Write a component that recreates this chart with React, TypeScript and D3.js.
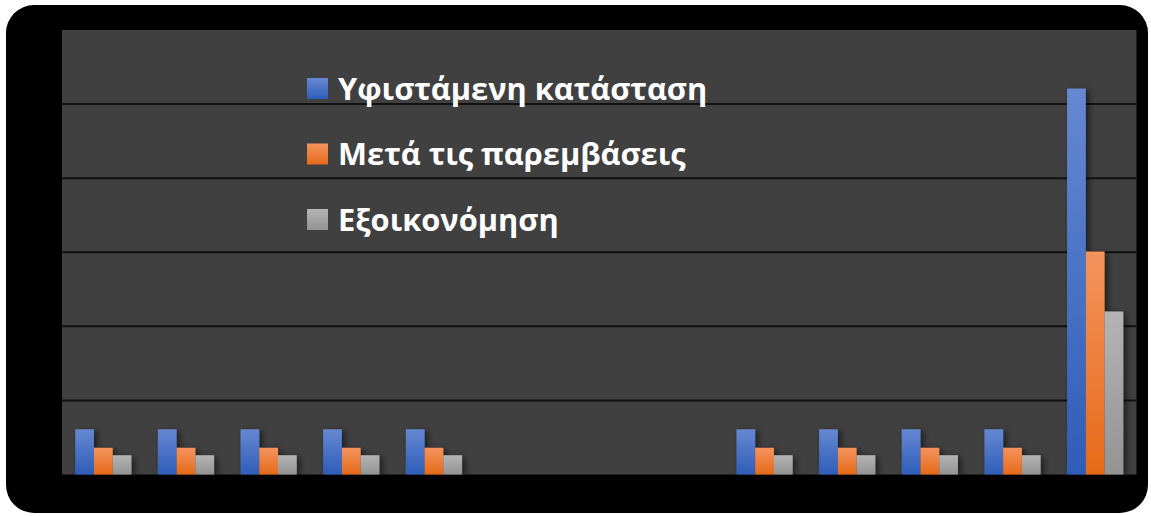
import React from "react";
import * as d3 from "d3";

const categories = ["1", "2", "3", "4", "5", "6", "7", "8", "9", "10", "11", "12", "13"];
const seriesNames = ["Υφιστάμενη κατάσταση", "Μετά τις παρεμβάσεις", "Εξοικονόμηση"];
const existing = [0.61, 0.61, 0.61, 0.61, 0.61, 0, 0, 0, 0.61, 0.61, 0.61, 0.61, 5.21];
const after = [0.36, 0.36, 0.36, 0.36, 0.36, 0, 0, 0, 0.36, 0.36, 0.36, 0.36, 3.01];
const savings = [0.26, 0.26, 0.26, 0.26, 0.26, 0, 0, 0, 0.26, 0.26, 0.26, 0.26, 2.2];
const yTicks = [1, 2, 3, 4, 5];

const W = 1151;
const H = 516;
const plot = { left: 62, right: 1136.5, top: 30, bottom: 474.5 };

const gradients = [
  { id: "gBlue", top: "#6688d2", bottom: "#2e5db8" },
  { id: "gOrange", top: "#f4935e", bottom: "#e56a18" },
  { id: "gGrey", top: "#b4b4b4", bottom: "#939393" },
];

export default function App() {
  const series = [existing, after, savings];
  const x0 = d3.scaleBand<string>().domain(categories).range([plot.left, plot.right]).paddingInner(0.32).paddingOuter(0.16);
  const x1 = d3.scaleBand<number>().domain([0, 1, 2]).range([0, x0.bandwidth()]);
  const y = d3.scaleLinear().domain([0, 6]).range([plot.bottom, plot.top]);

  return (
    <svg width={W} height={H} style={{ position: "absolute", left: 0, top: 0 }}>
      <defs>
        {gradients.map((g) => (
          <linearGradient key={g.id} id={g.id} x1="0" y1="0" x2="0" y2="1">
            <stop offset="0" stopColor={g.top} />
            <stop offset="1" stopColor={g.bottom} />
          </linearGradient>
        ))}
        <filter id="shadow" x="-30%" y="-10%" width="180%" height="130%">
          <feDropShadow dx="3" dy="2" stdDeviation="3" floodColor="#000" floodOpacity="0.55" />
        </filter>
      </defs>
      <rect x={0} y={0} width={W} height={H} fill="#ffffff" />
      <rect x={6} y={5} width={1142} height={508} rx={28} ry={28} fill="#000000" />
      <rect x={plot.left} y={plot.top} width={plot.right - plot.left} height={plot.bottom - plot.top} fill="#404040" />
      {yTicks.map((t) => (
        <line key={t} x1={plot.left} x2={plot.right} y1={y(t)} y2={y(t)} stroke="#111111" strokeWidth={2} />
      ))}
      <g filter="url(#shadow)">
        {categories.map((c, i) =>
          series.map((s, j) =>
            s[i] > 0 ? (
              <rect
                key={c + "-" + j}
                x={(x0(c) as number) + (x1(j) as number)}
                y={y(s[i])}
                width={x1.bandwidth()}
                height={y(0) - y(s[i])}
                fill={`url(#${gradients[j].id})`}
              />
            ) : null
          )
        )}
      </g>
      <g>
        {seriesNames.map((name, j) => (
          <g key={name} transform={`translate(307, ${88.5 + j * 65.5})`}>
            <rect x={0} y={-10.5} width={21} height={21} fill={`url(#${gradients[j].id})`} />
            <text
              x={31}
              y={0}
              dy="0.36em"
              fill="#ffffff"
              fontFamily="'Open Sans', sans-serif"
              fontWeight={700}
              fontSize={30.8}
            >
              {name}
            </text>
          </g>
        ))}
      </g>
    </svg>
  );
}
